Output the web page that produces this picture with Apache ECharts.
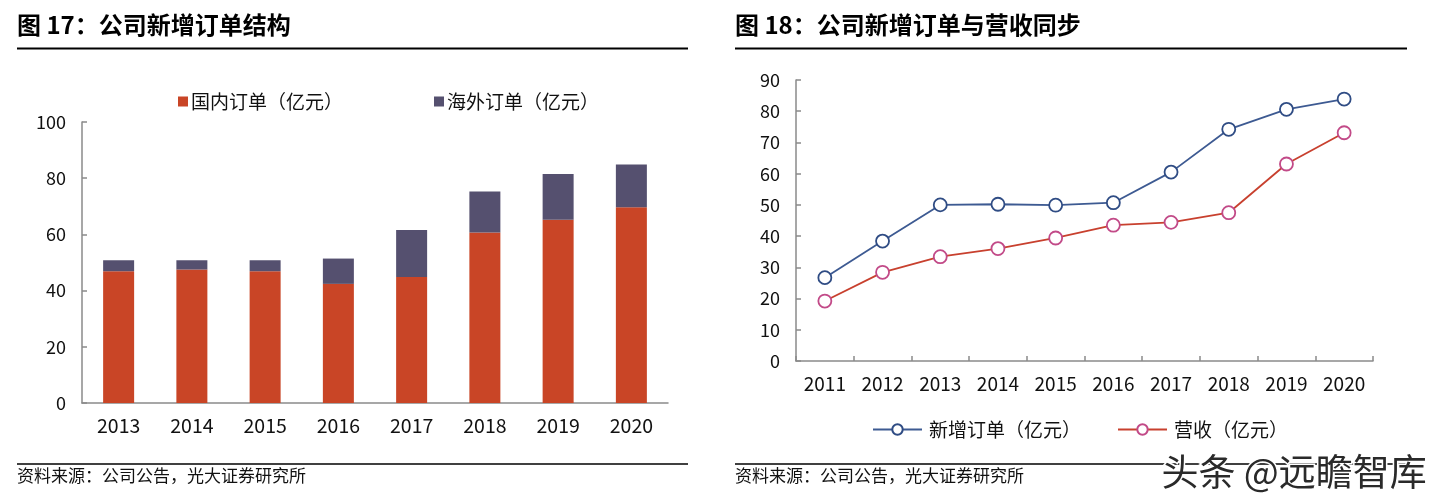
<!DOCTYPE html>
<html><head><meta charset="utf-8">
<script src="https://cdn.jsdelivr.net/npm/echarts@6/dist/echarts.min.js"></script>
<style>html,body{margin:0;padding:0;background:#fff}#c{width:1440px;height:504px}</style>
</head><body><div id="c"></div>
<script>
// ---- Data ----
const barYears = ['2013','2014','2015','2016','2017','2018','2019','2020'];
const domesticOrders = [46.9, 47.5, 46.9, 42.4, 44.8, 60.7, 65.2, 69.7];
const overseasOrders = [3.9, 3.3, 3.9, 9.0, 16.8, 14.6, 16.3, 15.2];
const lineYears = ['2011','2012','2013','2014','2015','2016','2017','2018','2019','2020'];
const newOrders = [26.7, 38.4, 50.0, 50.2, 49.9, 50.7, 60.5, 74.2, 80.6, 83.9];
const revenue = [19.2, 28.4, 33.4, 36.0, 39.4, 43.5, 44.4, 47.5, 63.1, 73.1];
const leftTitle = '图 17：公司新增订单结构';
const rightTitle = '图 18：公司新增订单与营收同步';
const sourceText = '资料来源：公司公告，光大证券研究所';

const FONT = "'Noto Sans CJK SC','Noto Sans',sans-serif";
const axisGray = '#8a8a8a';
const chart = echarts.init(document.getElementById('c'));

const axisCommon = {
  axisLine: {show: true, lineStyle: {color: axisGray, width: 1.5}},
  splitLine: {show: false}
};

chart.setOption({
  backgroundColor: '#fff',
  animation: false,
  textStyle: {fontFamily: FONT},
  grid: [
    {left: 82, right: 772, top: 122, bottom: 101},
    {left: 796, right: 67, top: 80, bottom: 143}
  ],
  legend: [
    {
      data: ['国内订单（亿元）', '海外订单（亿元）'],
      left: 178, top: 92, icon: 'rect', itemWidth: 10, itemHeight: 10,
      itemGap: 91, padding: 0,
      textStyle: {fontSize: 19, color: '#111', fontFamily: FONT, padding: [0, 0, 0, -2]}
    },
    {
      data: ['新增订单（亿元）', '营收（亿元）'],
      left: 872, top: 420, itemWidth: 49, itemHeight: 13,
      itemGap: 36, padding: 0,
      textStyle: {fontSize: 19, color: '#111', fontFamily: FONT, padding: [0, 0, 0, 2]}
    }
  ],
  xAxis: [
    Object.assign({}, axisCommon, {
      type: 'category', gridIndex: 0, data: barYears,
      axisTick: {show: false},
      axisLabel: {color: '#111', fontSize: 19.5, fontFamily: FONT, margin: 13}
    }),
    Object.assign({}, axisCommon, {
      type: 'category', gridIndex: 1, data: lineYears, boundaryGap: true,
      axisTick: {show: true, inside: true, length: 5, lineStyle: {color: axisGray, width: 1.5}},
      axisLabel: {color: '#111', fontSize: 19, fontFamily: FONT, margin: 13}
    })
  ],
  yAxis: [
    Object.assign({}, axisCommon, {
      type: 'value', gridIndex: 0, min: 0, max: 100, interval: 20,
      axisTick: {show: true, inside: true, length: 5, lineStyle: {color: axisGray, width: 1.5}},
      axisLabel: {color: '#111', fontSize: 18, fontFamily: FONT, margin: 16}
    }),
    Object.assign({}, axisCommon, {
      type: 'value', gridIndex: 1, min: 0, max: 90, interval: 10,
      axisTick: {show: true, inside: true, length: 5, lineStyle: {color: axisGray, width: 1.5}},
      axisLabel: {color: '#111', fontSize: 18, fontFamily: FONT, margin: 16}
    })
  ],
  series: [
    {name: '国内订单（亿元）', type: 'bar', stack: 'a', xAxisIndex: 0, yAxisIndex: 0,
     data: domesticOrders, barWidth: 31, itemStyle: {color: '#C94526'}},
    {name: '海外订单（亿元）', type: 'bar', stack: 'a', xAxisIndex: 0, yAxisIndex: 0,
     data: overseasOrders, barWidth: 31, itemStyle: {color: '#55506F'}},
    {name: '新增订单（亿元）', type: 'line', xAxisIndex: 1, yAxisIndex: 1, data: newOrders,
     symbol: 'circle', symbolSize: 13,
     lineStyle: {color: '#3D5A92', width: 1.8},
     itemStyle: {color: '#fff', borderColor: '#2F4C84', borderWidth: 1.8}},
    {name: '营收（亿元）', type: 'line', xAxisIndex: 1, yAxisIndex: 1, data: revenue,
     symbol: 'circle', symbolSize: 13,
     lineStyle: {color: '#C8402E', width: 1.8},
     itemStyle: {color: '#fff', borderColor: '#C24A88', borderWidth: 1.8}}
  ],
  graphic: [
    {type: 'text', left: 17, top: 13, style: {text: leftTitle, font: 'bold 24px ' + FONT, fill: '#000'}},
    {type: 'text', left: 735, top: 13, style: {text: rightTitle, font: 'bold 24px ' + FONT, fill: '#000'}},
    {type: 'line', shape: {x1: 17, y1: 48.5, x2: 688, y2: 48.5}, style: {stroke: '#000', lineWidth: 2}},
    {type: 'line', shape: {x1: 735, y1: 48.5, x2: 1407, y2: 48.5}, style: {stroke: '#000', lineWidth: 2}},
    {type: 'line', shape: {x1: 17, y1: 464, x2: 688, y2: 464}, style: {stroke: '#000', lineWidth: 1.5}},
    {type: 'line', shape: {x1: 735, y1: 464, x2: 1407, y2: 464}, style: {stroke: '#000', lineWidth: 1.5}},
    {type: 'text', left: 17, top: 467, style: {text: sourceText, font: '17px ' + FONT, fill: '#111'}},
    {type: 'text', left: 735, top: 467, style: {text: sourceText, font: '17px ' + FONT, fill: '#111'}},
    {type: 'text', left: 1160, top: 452, z: 100, style: {text: '头条 @远瞻智库', font: '37px ' + FONT, fill: '#2a2a2a', stroke: '#fff', lineWidth: 3}}
  ]
});
</script></body></html>
